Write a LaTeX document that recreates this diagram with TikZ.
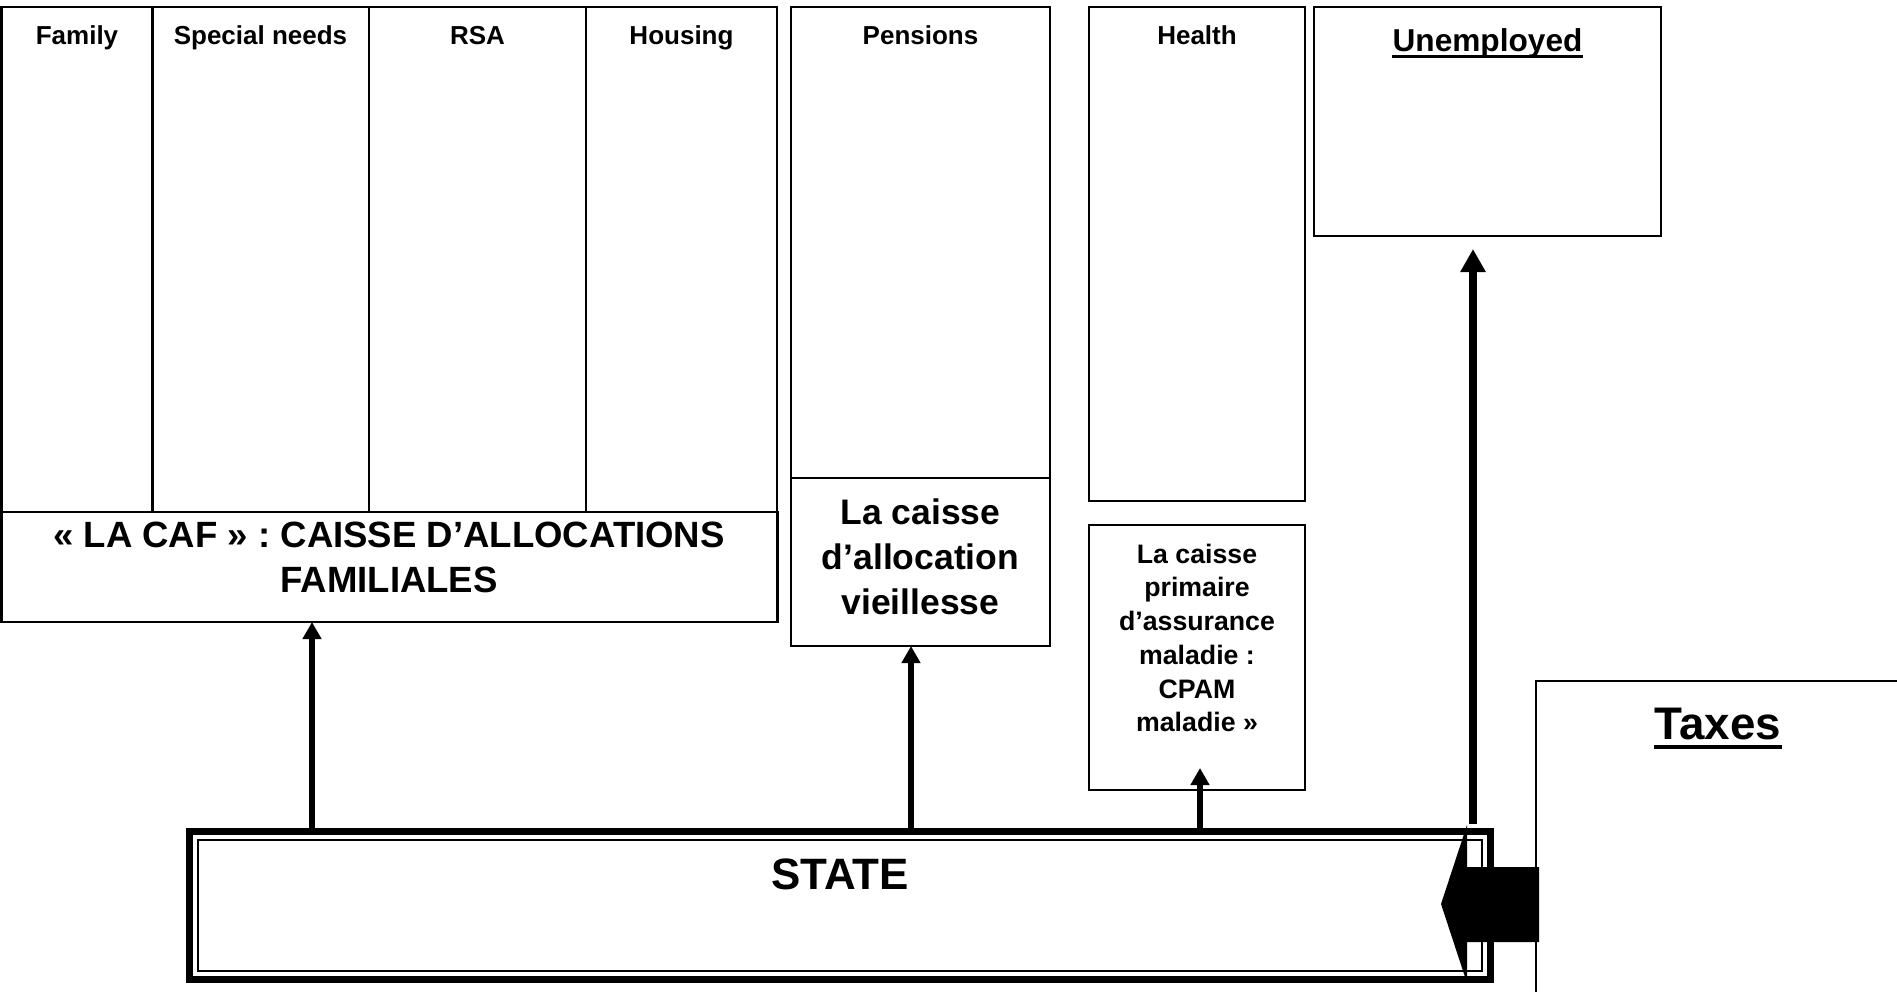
\documentclass[tikz,border=0pt]{standalone}
\usepackage{fontspec}
\setmainfont{Liberation Sans}
\usetikzlibrary{arrows.meta}

\begin{document}
\begin{tikzpicture}[x=0.1mm, y=-0.1mm,
  box/.style={draw=black, line width=0.25mm, inner sep=0pt, outer sep=0pt},
  hdr/.style={anchor=base, font=\fontsize{7.4}{9}\selectfont\bfseries},
  flow/.style={-{Triangle[length=1.7mm, width=1.8mm]}, line width=0.6mm},
  bigflow/.style={-{Triangle[length=2.3mm, width=2.4mm]}, line width=0.8mm}]

  \useasboundingbox (0,0) rectangle (1897,992);

  % caisse d'allocations familiales
  \node (family) [box, minimum width=15.1mm, minimum height=50.5mm] at (77,259.5) {};
  \node (needs) [box, minimum width=21.7mm, minimum height=50.5mm] at (260.5,259.5) {};
  \node (rsa) [box, minimum width=21.7mm, minimum height=50.5mm] at (477.5,259.5) {};
  \node (housing) [box, minimum width=19.1mm, minimum height=50.5mm] at (681.5,259.5) {};
  \node (caf) [box, minimum width=77.6mm, minimum height=11mm] at (389.5,567) {};

  \node (pensions) [box, minimum width=25.9mm, minimum height=47.1mm] at (920.5,242.5) {};
  \node (vieillesse) [box, minimum width=25.9mm, minimum height=16.8mm] at (920.5,562) {};

  \node (health) [box, minimum width=21.6mm, minimum height=49.4mm] at (1197,254) {};
  \node (cpam) [box, minimum width=21.6mm, minimum height=26.5mm] at (1197,657.5) {};

  \node (unemployed) [box, minimum width=34.7mm, minimum height=22.9mm] at (1487.5,121.5) {};
  \node (taxes) [box, minimum width=36.4mm, minimum height=32mm] at (1718,841) {};

  \node (state) [draw=black, line width=0.7mm, inner sep=0pt, outer sep=0pt, minimum width=130.1mm, minimum height=14.8mm] at (840,905.5) {};
  \draw [line width=0.15mm] ([shift={(8.5,8.5)}]state.north west) rectangle ([shift={(-8.5,-8.5)}]state.south east);

  % texts
  \node (familytxt) [hdr] at (77,44) {Family};
  \node (needstxt) [hdr] at (260.5,44) {Special needs};
  \node (rsatxt) [hdr] at (477.5,44) {RSA};
  \node (housingtxt) [hdr] at (681.5,44) {Housing};
  \node (pensionstxt) [hdr] at (920.5,44) {Pensions};
  \node (healthtxt) [hdr] at (1197,44) {Health};

  \node (caftxt) [align=center, font=\fontsize{10.4}{12.8}\selectfont\bfseries] at (389,557) {« LA CAF » : CAISSE D’ALLOCATIONS\\FAMILIALES};
  \node (vieillessetxt) [align=center, font=\fontsize{10.1}{12.8}\selectfont\bfseries] at (920.5,556.5) {La caisse\\d’allocation\\vieillesse};
  \node (cpamtxt) [align=center, font=\fontsize{7.6}{9.6}\selectfont\bfseries] at (1197,638) {La caisse\\primaire\\d’assurance\\maladie :\\CPAM\\maladie »};

  \node (unemployedtxt) [anchor=base, inner sep=0pt, font=\fontsize{9}{11}\selectfont\bfseries] at (1487.5,51) {Unemployed};
  \draw [line width=0.35mm] ([yshift=-0.55mm]unemployedtxt.base west) -- ([yshift=-0.55mm]unemployedtxt.base east);

  \node (statetxt) [anchor=base, font=\fontsize{12.5}{15}\selectfont\bfseries] at (840,889) {STATE};
  \node (taxestxt) [anchor=base, inner sep=0pt, font=\fontsize{13}{15}\selectfont\bfseries] at (1718,739.5) {Taxes};
  \draw [line width=0.4mm] ([yshift=-0.75mm]taxestxt.base west) -- ([yshift=-0.75mm]taxestxt.base east);

  % arrows
  \coordinate (x1) at (312,0);
  \coordinate (x2) at (911,0);
  \coordinate (x3) at (1200,0);
  \coordinate (x4) at (1473,0);
  \draw [flow] (x1 |- state.north) -- (x1 |- caf.south);
  \draw [flow] (x2 |- state.north) -- (x2 |- vieillesse.south);
  \draw [flow, shorten >=-2.2mm] (x3 |- state.north) -- (x3 |- cpam.south);
  \draw [bigflow, shorten <=0.8mm, shorten >=1.3mm] (x4 |- state.north) -- (x4 |- unemployed.south);

  \fill (1441,904) -- (1467,825) -- (1467,867) -- (1539,867) -- (1539,942) -- (1467,942) -- (1467,983) -- cycle;
\end{tikzpicture}
\end{document}
